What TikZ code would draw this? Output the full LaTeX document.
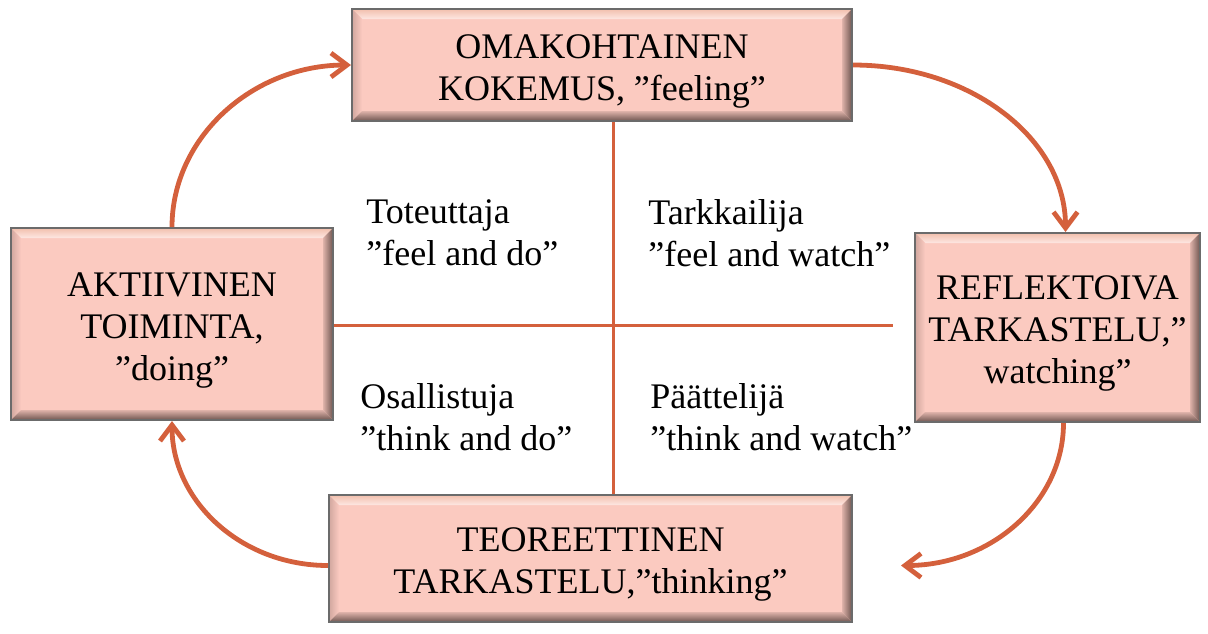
\documentclass[tikz,border=0pt]{standalone}
\usepackage{fontspec}
\setmainfont{Liberation Serif}
\usetikzlibrary{arrows.meta}
\definecolor{cyclered}{HTML}{D4603C}
\definecolor{boxfill}{HTML}{FBCAC0}
\definecolor{boxedge}{HTML}{6B6B6B}
\definecolor{bevdark}{HTML}{6E5550}
\newcommand{\boxstrut}{\rule{0pt}{18pt}}
\tikzset{
  stagebox/.style={draw=boxedge, line width=1pt, fill=boxfill, align=center, inner sep=0pt,
    font=\fontsize{18}{21}\selectfont,
    path picture={
      \coordinate (nw) at (path picture bounding box.north west);
      \coordinate (ne) at (path picture bounding box.north east);
      \coordinate (sw) at (path picture bounding box.south west);
      \coordinate (se) at (path picture bounding box.south east);
      \shade[top color=boxfill!85!brown, bottom color=white!55!boxfill]
        (nw) -- (ne) -- ([shift={(-5pt,-5pt)}]ne) -- ([shift={(5pt,-5pt)}]nw) -- cycle;
      \shade[left color=boxfill!70!bevdark, right color=boxfill]
        (nw) -- ([shift={(5pt,-5pt)}]nw) -- ([shift={(5pt,5pt)}]sw) -- (sw) -- cycle;
      \shade[left color=boxfill!80!bevdark, right color=bevdark]
        (ne) -- ([shift={(-5pt,-5pt)}]ne) -- ([shift={(-5pt,5pt)}]se) -- (se) -- cycle;
      \shade[top color=boxfill!80!bevdark, bottom color=bevdark]
        (sw) -- ([shift={(5pt,5pt)}]sw) -- ([shift={(-5pt,5pt)}]se) -- (se) -- cycle;
    }},
  quadtext/.style={align=left, inner sep=0pt, anchor=west, font=\fontsize{18}{21}\selectfont},
  crossline/.style={draw=cyclered, line width=1.5pt},
  cyclearrow/.style={draw=cyclered, line width=2.4pt,
    -{Straight Barb[length=8pt,width=12pt]}}
}
\begin{document}
\begin{tikzpicture}[x=0.5pt,y=-0.5pt]
  \useasboundingbox (0,0) rectangle (1208,633);
  \node[stagebox, minimum width=250pt, minimum height=56pt] (omak) at (602,65)
    {\boxstrut OMAKOHTAINEN\\KOKEMUS, ”feeling”};
  \node[stagebox, minimum width=161pt, minimum height=96pt] (aktiiv) at (172,324)
    {\boxstrut AKTIIVINEN\\TOIMINTA,\\”doing”};
  \node[stagebox, minimum width=142.5pt, minimum height=94.5pt] (reflekt) at (1057.5,327.5)
    {\boxstrut REFLEKTOIVA\\TARKASTELU,”\\watching”};
  \node[stagebox, minimum width=261.5pt, minimum height=63.5pt] (teor) at (590.5,558.5)
    {\boxstrut TEOREETTINEN\\TARKASTELU,”thinking”};

  \coordinate (hub) at (613,325);
  \coordinate (hend) at (893,325);
  \draw[crossline] (hub |- omak.south) -- (hub |- teor.north);
  \draw[crossline] (aktiiv.east |- hub) -- (hend);

  \node[quadtext] (toteut) at (366,233) {Toteuttaja\\”feel and do”};
  \node[quadtext] (tarkk) at (648,233) {Tarkkailija\\”feel and watch”};
  \node[quadtext] (osall) at (360,417) {Osallistuja\\”think and do”};
  \node[quadtext] (paatt) at (650,417) {Päättelijä\\”think and watch”};

  \coordinate (teortip) at ([xshift=24pt,yshift=-3.5pt]teor.east);
  \draw[cyclearrow] (omak.east) .. controls +(118,0) and +(0,-93) .. ([xshift=4pt]reflekt.north);
  \draw[cyclearrow] ([xshift=3pt]reflekt.south) .. controls +(0,79) and +(90,0) .. (teortip);
  \draw[cyclearrow] ([yshift=-3.5pt]teor.west) .. controls +(-87,0) and +(0,80) .. (aktiiv.south);
  \draw[cyclearrow] (aktiiv.north) .. controls +(0,-89) and +(-99,0) .. (omak.west);
\end{tikzpicture}
\end{document}
